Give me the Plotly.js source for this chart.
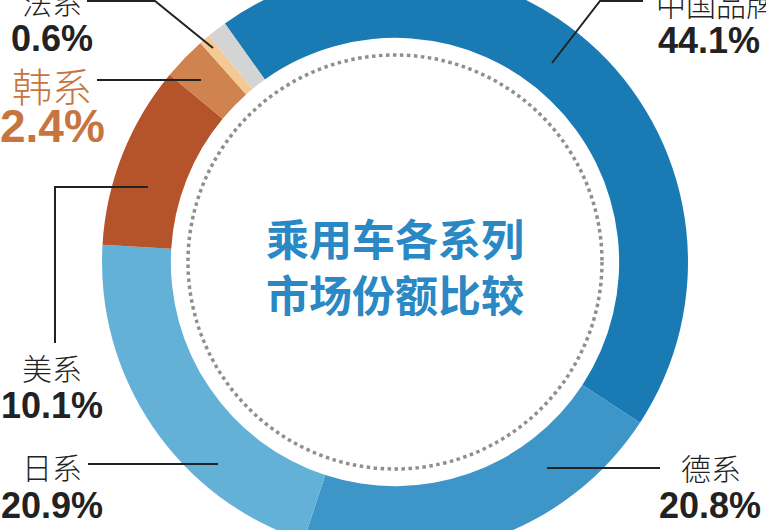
<!DOCTYPE html>
<html><head><meta charset="utf-8">
<script src="https://cdn.plot.ly/plotly-3.0.1.min.js"></script>
<style>
html,body{margin:0;padding:0;overflow:hidden;background:#fff;width:766px;height:530px;}
#chart{position:absolute;left:0;top:-38px;width:766px;height:600px;}
</style>
</head><body><div id="chart"></div>
<script>
// ---- data ----
const categories = ['中国品牌', '德系', '日系', '美系', '韩系', '法系', '其他'];
const shares = [44.1, 20.8, 20.9, 10.1, 2.4, 0.6, 1.1];
const sliceColors = ['#1a7bb4', '#3e95c8', '#64b1d8', '#b5532b', '#d0834f', '#f4c995', '#d4d4d4'];
const pctLabels = ['44.1%', '20.8%', '20.9%', '10.1%', '2.4%', '0.6%'];
const centerTitle = ['乘用车各系列', '市场份额比较'];

// ---- geometry helpers (window pixels -> paper coords of 766x600 div shifted up 38px) ----
const W = 766, H = 600, OFF = 38;
const px = x => x / W;
const py = y => 1 - (y + OFF) / H;
const cx = 395, cy = 262, R = 293, dotR = 207;

function pathFrom(pts) {
  return pts.map((p, i) => (i ? 'L' : 'M') + px(p[0]).toFixed(5) + ',' + py(p[1]).toFixed(5)).join(' ');
}

const darkText = '#222222';
const nameFont = {family: 'Noto Sans CJK SC', size: 30, color: darkText, weight: 300};
const pctFont = {family: 'Liberation Sans, Arial', size: 36, color: darkText, weight: 700};
const korea = '#c8743f';

// label placement (window px): [name x, name y, pct x, pct y]
const labelPos = {
  '中国品牌': [716, 3, 709, 40],
  '德系': [711, 467, 710, 505],
  '日系': [52, 466, 52, 505],
  '美系': [52, 367, 52, 405],
  '韩系': [52, 85, 52, 126],
  '法系': [52, 1, 52, 38]
};
const leaders = [
  [[552, 63], [600, 1], [643, 1]],
  [[547, 468], [660, 468]],
  [[88, 464], [218, 464]],
  [[148, 187], [55, 187], [55, 343]],
  [[97, 80], [201, 80]],
  [[87, 1], [155, 1], [213, 48]]
];

const annotations = [];
categories.slice(0, 6).forEach((c, i) => {
  const p = labelPos[c];
  const isKorea = c === '韩系';
  annotations.push({
    xref: 'paper', yref: 'paper', x: px(p[0]), y: py(p[1]), text: c, showarrow: false,
    xanchor: 'center', yanchor: 'middle',
    font: isKorea ? Object.assign({}, nameFont, {size: 40, color: korea}) : nameFont
  });
  annotations.push({
    xref: 'paper', yref: 'paper', x: px(p[2]), y: py(p[3]), text: pctLabels[i], showarrow: false,
    xanchor: 'center', yanchor: 'middle',
    font: isKorea ? Object.assign({}, pctFont, {size: 46, color: korea}) : pctFont
  });
});
annotations.push({
  xref: 'paper', yref: 'paper', x: px(cx), y: py(cy + 3), text: centerTitle.join('<br>'),
  showarrow: false, xanchor: 'center', yanchor: 'middle',
  font: {family: 'Noto Sans CJK SC', size: 43, color: '#2a88c5', weight: 700}
});

const shapes = leaders.map(l => ({
  type: 'path', xref: 'paper', yref: 'paper', path: pathFrom(l),
  line: {color: darkText, width: 2}
}));
shapes.push({
  type: 'circle', xref: 'paper', yref: 'paper',
  x0: px(cx - dotR), x1: px(cx + dotR), y0: py(cy + dotR), y1: py(cy - dotR),
  line: {color: '#8f8f8f', width: 3.5, dash: '3.5px,3.5px'}
});

const trace = {
  type: 'pie', labels: categories, values: shares, sort: false,
  direction: 'clockwise', rotation: -35.5, hole: 0.765,
  marker: {colors: sliceColors, line: {width: 0}},
  textinfo: 'none', hoverinfo: 'label+value', showlegend: false,
  domain: {x: [px(cx - R), px(cx + R)], y: [py(cy + R), py(cy - R)]}
};

Plotly.newPlot('chart', [trace], {
  width: W, height: H, margin: {l: 0, r: 0, t: 0, b: 0},
  paper_bgcolor: '#ffffff', plot_bgcolor: '#ffffff',
  showlegend: false, annotations: annotations, shapes: shapes
}, {displayModeBar: false, staticPlot: true});
</script>
</body></html>
